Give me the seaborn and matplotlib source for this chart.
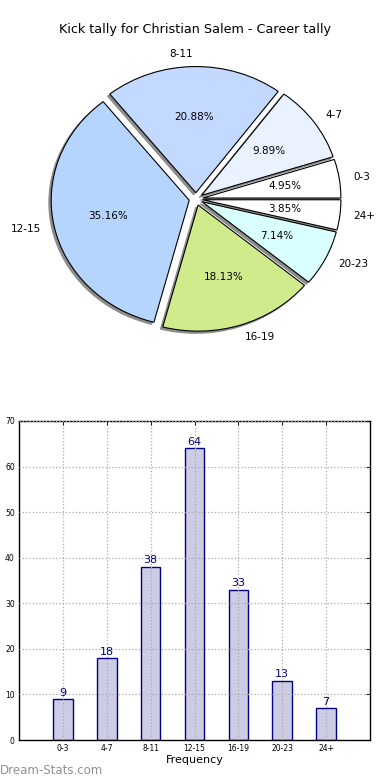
import matplotlib
matplotlib.use("Agg")
import matplotlib.pyplot as plt
import seaborn as sns

TITLE = "Kick tally for Christian Salem - Career tally"
categories = ["0-3", "4-7", "8-11", "12-15", "16-19", "20-23", "24+"]
counts = [9, 18, 38, 64, 33, 13, 7]
pie_colors = ["#ffffff", "#eaf1ff", "#c4d9ff", "#b5d5ff", "#d0eb8b", "#d9ffff", "#ffffff"]

sns.set_style("white")
plt.rcParams["font.family"] = ["DejaVu Sans"]
plt.rcParams["text.color"] = "black"
plt.rcParams["xtick.color"] = "black"
plt.rcParams["ytick.color"] = "black"
plt.rcParams["axes.labelcolor"] = "black"

fig = plt.figure(figsize=(3.9, 7.8), dpi=100)

# pie (old-style, not aspect-equal, so it comes out slightly oval)
ax_pie = fig.add_axes([16.5 / 390, 1 - 363 / 780, 359 / 390, 328 / 780])
ax_pie.pie(counts, labels=categories, colors=pie_colors, explode=[0.05] * len(counts),
           autopct="%1.2f%%", startangle=0, labeldistance=1.1, pctdistance=0.6,
           shadow={"ox": -0.012, "oy": -0.012, "facecolor": "0.55", "edgecolor": "0.55", "alpha": 1},
           wedgeprops={"edgecolor": "black", "linewidth": 0.8},
           textprops={"fontsize": 7.5})
ax_pie.set_xlim(-1.3, 1.3)
ax_pie.set_ylim(-1.3, 1.3)
ax_pie.set_aspect("auto")
ax_pie.axis("off")
fig.text(195 / 390, 1 - 30 / 780, TITLE, ha="center", va="center", fontsize=9.2)

# bar chart
ax = fig.add_axes([19 / 390, 1 - 740 / 780, 351 / 390, 319 / 780])
sns.barplot(x=categories, y=counts, ax=ax, width=0.45, color="#ccccE5", saturation=1,
            edgecolor="navy", linewidth=1)
ax.bar_label(ax.containers[0], color="navy", fontsize=8, padding=1)
ax.set_xlim(-1, 7)
ax.set_ylim(0, 70)
ax.set_yticks(range(0, 71, 10))
ax.set_xlabel("Frequency", fontsize=8, labelpad=1)
ax.set_ylabel("")
ax.grid(True, linestyle=":", color="#aaaaaa", linewidth=0.9)
ax.set_axisbelow(False)
ax.tick_params(direction="in", top=True, right=True, length=3, width=0.6,
               labelsize=5.5, pad=3)
for s in ax.spines.values():
    s.set_color("black")
    s.set_linewidth(1)

fig.text(0, 1 - 771 / 780, "Dream-Stats.com", color="#909090", fontsize=8.5,
         ha="left", va="center")

fig.savefig("out.png", dpi=100)
